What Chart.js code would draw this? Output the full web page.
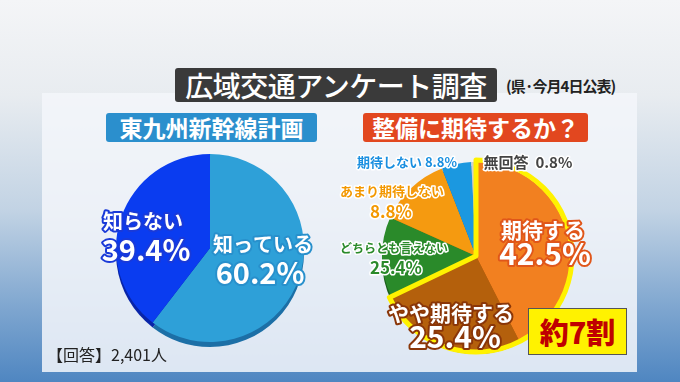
<!DOCTYPE html>
<html>
<head>
<meta charset="utf-8">
<script src="https://cdn.jsdelivr.net/npm/chart.js@4"></script>
<style>
  html, body { margin: 0; padding: 0; }
  body {
    width: 680px; height: 382px; overflow: hidden; position: relative;
    font-family: "Noto Sans CJK JP", sans-serif;
    background: linear-gradient(180deg, #f4f5f7 0%, #e8ecf0 25%, #c2d3e4 55%, #80a7d0 80%, #4f86c1 100%);
  }
  .panel { position: absolute; left: 42px; top: 93px; width: 595px; height: 279px; background: rgba(243,246,250,0.86); }
  .title {
    position: absolute; left: 175px; top: 68px; width: 322px; height: 34px;
    background: #3a3a3a; border-radius: 3px; color: #fff;
    font-size: 28px; line-height: 34px; text-align: center; font-weight: 500; letter-spacing: -0.5px;
  }
  .note { position: absolute; left: 506px; top: 75px; font-size: 15px; font-weight: 700; color: #222; letter-spacing: -1px; }
  .sub {
    position: absolute; top: 113px; height: 29px; border-radius: 3px; color: #fff;
    font-size: 23px; line-height: 29px; text-align: center; font-weight: 700;
  }
  .sub.left { left: 106px; width: 211px; background: #2b8fcd; }
  .sub.right { left: 363px; width: 225px; background: #e2471f; }
  .seven {
    position: absolute; left: 528px; top: 308px; width: 97px; height: 45px;
    background: #fff200; border: 1px solid #555; color: #c00000;
    font-size: 29px; font-weight: 900; line-height: 45px; text-align: center;
  }
  .count { position: absolute; left: 47px; top: 342px; font-size: 16px; color: #222; }
  canvas { position: absolute; }
  #pieChart1 { left: 95px; top: 145px; }
  #pieChart2 { left: 330px; top: 145px; }
</style>
</head>
<body>
<div class="panel"></div>
<div class="title">広域交通アンケート調査</div>
<div class="note">(県·今月4日公表)</div>
<div class="sub left">東九州新幹線計画</div>
<div class="sub right">整備に期待するか？</div>
<canvas id="pieChart1" width="240" height="220"></canvas>
<canvas id="pieChart2" width="307" height="225"></canvas>
<div class="seven">約7割</div>
<div class="count">【回答】2,401人</div>
<script>
// 東九州新幹線計画を知っているか
const knowLabels = ['知っている', '知らない'];
const knowValues = [60.2, 39.4];
const knowText = ['60.2%', '39.4%'];

// 整備に期待するか (slice sizes, printed texts as shown)
const expectLabels = ['期待する', 'やや期待する', 'どちらとも言えない', 'あまり期待しない', '期待しない', '無回答'];
const expectValues = [42.5, 25.4, 13.8, 12.4, 5.1, 0.8];
const expectText = ['42.5%', '25.4%', '25.4%', '8.8%', '8.8%', '0.8%'];

const FONT = '"Noto Sans CJK JP", sans-serif';

// darker rim under the pie for a slight 3D look
const rimPlugin = {
    id: 'rim',
    beforeDatasetsDraw(chart, args, opts) {
        const ctx = chart.ctx;
        chart.getDatasetMeta(0).data.forEach((arc, i) => {
            const p = arc.getProps(['x', 'y', 'startAngle', 'endAngle', 'outerRadius'], true);
            ctx.save();
            ctx.fillStyle = opts.colors[i];
            ctx.beginPath();
            ctx.moveTo(p.x, p.y + opts.depth);
            ctx.arc(p.x, p.y + opts.depth, p.outerRadius, p.startAngle, p.endAngle);
            ctx.closePath();
            ctx.fill();
            ctx.restore();
        });
    }
};

// outlined text labels placed relative to the pie centre
const labelPlugin = {
    id: 'labels',
    afterDatasetsDraw(chart, args, opts) {
        const ctx = chart.ctx;
        const arc = chart.getDatasetMeta(0).data[0];
        const cx = arc.x, cy = arc.y;
        if (opts.highlight) {
            const meta = chart.getDatasetMeta(0).data;
            const a = meta[opts.highlight[0]], b = meta[opts.highlight[1]];
            ctx.save();
            ctx.strokeStyle = '#fff200';
            ctx.lineWidth = 5;
            ctx.lineJoin = 'round';
            ctx.beginPath();
            ctx.moveTo(cx, cy);
            ctx.arc(cx, cy, a.outerRadius + 2, a.startAngle, b.endAngle);
            ctx.closePath();
            ctx.stroke();
            ctx.restore();
        }
        opts.items.forEach(t => {
            ctx.save();
            ctx.font = t.font;
            ctx.textAlign = 'center';
            ctx.textBaseline = 'middle';
            ctx.lineJoin = 'round';
            ctx.strokeStyle = t.stroke;
            ctx.lineWidth = t.lw;
            ctx.strokeText(t.text, cx + t.dx, cy + t.dy);
            ctx.fillStyle = t.fill;
            ctx.fillText(t.text, cx + t.dx, cy + t.dy);
            ctx.restore();
        });
    }
};

window.knowChart = new Chart(
    document.getElementById('pieChart1'),
    {
        type: 'pie',
        data: {
            labels: knowLabels,
            datasets: [{
                data: knowValues,
                backgroundColor: ['#2ea0d8', '#0a3cf0'],
                borderWidth: 0
            }]
        },
        options: {
            responsive: false,
            animation: false,
            layout: { padding: { left: 21, right: 31, top: 9, bottom: 23 } },
            plugins: {
                legend: { display: false },
                tooltip: { enabled: false },
                rim: { depth: 5, colors: ['#1c6fa6', '#0824a8'] },
                labels: {
                    items: [
                        { text: knowLabels[1], dx: -67, dy: -27, font: 'bold 20px ' + FONT, fill: '#fff', stroke: '#1a3ad8', lw: 4 },
                        { text: knowText[1], dx: -64, dy: 2, font: 'bold 29px ' + FONT, fill: '#fff', stroke: '#1a3ad8', lw: 4 },
                        { text: knowLabels[0], dx: 53, dy: -4, font: 'bold 20px ' + FONT, fill: '#fff', stroke: '#2890cc', lw: 4 },
                        { text: knowText[0], dx: 50, dy: 25, font: 'bold 29px ' + FONT, fill: '#fff', stroke: '#2890cc', lw: 4 }
                    ]
                }
            }
        },
        plugins: [rimPlugin, labelPlugin]
    }
);

window.expectChart = new Chart(
    document.getElementById('pieChart2'),
    {
        type: 'pie',
        data: {
            labels: expectLabels,
            datasets: [{
                data: expectValues,
                backgroundColor: ['#f28020', '#b4600c', '#2a8a2a', '#f59a10', '#1b98e0', '#d0d0d0'],
                borderWidth: 0
            }]
        },
        options: {
            responsive: false,
            animation: false,
            layout: { padding: { left: 52, right: 67, top: 17, bottom: 20 } },
            plugins: {
                legend: { display: false },
                tooltip: { enabled: false },
                rim: { depth: 4, colors: ['#b85a10', '#7a3e06', '#1b5e1b', '#b86e08', '#106aa0', '#999'] },
                labels: {
                    highlight: [0, 1],
                    items: [
                        { text: expectLabels[4] + ' ' + expectText[4], dx: -69, dy: -94, font: 'bold 13px ' + FONT, fill: '#1a8fe0', stroke: '#fff', lw: 3 },
                        { text: expectLabels[5] + '  ' + expectText[5], dx: 52, dy: -94, font: 'bold 15px ' + FONT, fill: '#444', stroke: '#fff', lw: 3 },
                        { text: expectLabels[3], dx: -84, dy: -65, font: 'bold 13px ' + FONT, fill: '#f39800', stroke: '#fff', lw: 3 },
                        { text: expectText[3], dx: -85, dy: -44, font: 'bold 17px ' + FONT, fill: '#f39800', stroke: '#fff', lw: 3 },
                        { text: expectLabels[2], dx: -82, dy: -8, font: 'bold 12px ' + FONT, fill: '#2a8a2a', stroke: '#fff', lw: 3 },
                        { text: expectText[2], dx: -80, dy: 12, font: 'bold 17px ' + FONT, fill: '#2a8a2a', stroke: '#fff', lw: 3 },
                        { text: expectLabels[0], dx: 67, dy: -26, font: 'bold 21px ' + FONT, fill: '#fff', stroke: '#e0561a', lw: 4 },
                        { text: expectText[0], dx: 69, dy: -2, font: 'bold 30px ' + FONT, fill: '#fff', stroke: '#e0561a', lw: 4 },
                        { text: expectLabels[1], dx: -25, dy: 57, font: 'bold 21px ' + FONT, fill: '#fff', stroke: '#8a3608', lw: 4 },
                        { text: expectText[1], dx: -21, dy: 81, font: 'bold 30px ' + FONT, fill: '#fff', stroke: '#8a3608', lw: 4 }
                    ]
                }
            }
        },
        plugins: [rimPlugin, labelPlugin]
    }
);
</script>
</body>
</html>
